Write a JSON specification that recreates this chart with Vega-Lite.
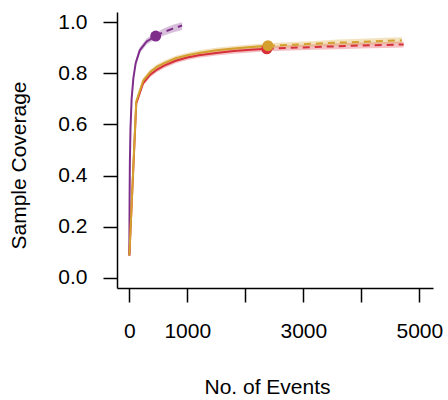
{
  "$schema": "https://vega.github.io/schema/vega-lite/v6.json",
  "width": 316,
  "height": 276,
  "autosize": {"type": "none"},
  "padding": {"left": 117, "top": 12, "right": 15, "bottom": 112},
  "background": "white",
  "config": {
    "view": {"stroke": null},
    "font": "Liberation Sans",
    "axis": {
      "grid": false,
      "domainColor": "black",
      "domainWidth": 1.5,
      "tickColor": "black",
      "tickWidth": 1.5,
      "tickSize": 14,
      "labelColor": "black",
      "labelFontSize": 21,
      "labelFont": "Liberation Sans",
      "titleColor": "black",
      "titleFontSize": 21,
      "titleFont": "Liberation Sans",
      "titleFontWeight": "normal",
      "labelFlush": false,
      "labelOverlap": false
    }
  },
  "data": {
    "values": [
      {"g": "A", "m": 1, "c": 0.087, "lo": 0.08, "hi": 0.094, "t": "int"},
      {"g": "A", "m": 5, "c": 0.3, "lo": 0.29, "hi": 0.31, "t": "int"},
      {"g": "A", "m": 10, "c": 0.45, "lo": 0.44, "hi": 0.46, "t": "int"},
      {"g": "A", "m": 20, "c": 0.58, "lo": 0.57, "hi": 0.59, "t": "int"},
      {"g": "A", "m": 40, "c": 0.7, "lo": 0.69, "hi": 0.71, "t": "int"},
      {"g": "A", "m": 70, "c": 0.78, "lo": 0.77, "hi": 0.79, "t": "int"},
      {"g": "A", "m": 110, "c": 0.84, "lo": 0.83, "hi": 0.85, "t": "int"},
      {"g": "A", "m": 180, "c": 0.89, "lo": 0.879, "hi": 0.901, "t": "int"},
      {"g": "A", "m": 300, "c": 0.925, "lo": 0.913, "hi": 0.937, "t": "int"},
      {"g": "A", "m": 455, "c": 0.946, "lo": 0.934, "hi": 0.958, "t": "int"},
      {"g": "A", "m": 455, "c": 0.946, "lo": 0.934, "hi": 0.958, "t": "ext"},
      {"g": "A", "m": 600, "c": 0.962, "lo": 0.948, "hi": 0.976, "t": "ext"},
      {"g": "A", "m": 750, "c": 0.975, "lo": 0.96, "hi": 0.99, "t": "ext"},
      {"g": "A", "m": 910, "c": 0.987, "lo": 0.97, "hi": 1.0, "t": "ext"},
      {"g": "A", "m": 455, "c": 0.946, "lo": 0.946, "hi": 0.946, "t": "obs"},

      {"g": "B", "m": 1, "c": 0.087, "lo": 0.082, "hi": 0.092, "t": "int"},
      {"g": "B", "m": 120, "c": 0.682, "lo": 0.672, "hi": 0.692, "t": "int"},
      {"g": "B", "m": 240, "c": 0.762, "lo": 0.752, "hi": 0.772, "t": "int"},
      {"g": "B", "m": 360, "c": 0.795, "lo": 0.785, "hi": 0.805, "t": "int"},
      {"g": "B", "m": 480, "c": 0.815, "lo": 0.805, "hi": 0.825, "t": "int"},
      {"g": "B", "m": 600, "c": 0.83, "lo": 0.82, "hi": 0.84, "t": "int"},
      {"g": "B", "m": 800, "c": 0.849, "lo": 0.839, "hi": 0.859, "t": "int"},
      {"g": "B", "m": 1000, "c": 0.862, "lo": 0.852, "hi": 0.872, "t": "int"},
      {"g": "B", "m": 1200, "c": 0.871, "lo": 0.861, "hi": 0.881, "t": "int"},
      {"g": "B", "m": 1500, "c": 0.88, "lo": 0.87, "hi": 0.89, "t": "int"},
      {"g": "B", "m": 1800, "c": 0.887, "lo": 0.877, "hi": 0.897, "t": "int"},
      {"g": "B", "m": 2100, "c": 0.892, "lo": 0.882, "hi": 0.902, "t": "int"},
      {"g": "B", "m": 2370, "c": 0.896, "lo": 0.886, "hi": 0.906, "t": "int"},
      {"g": "B", "m": 2370, "c": 0.896, "lo": 0.886, "hi": 0.906, "t": "ext"},
      {"g": "B", "m": 2800, "c": 0.9, "lo": 0.889, "hi": 0.911, "t": "ext"},
      {"g": "B", "m": 3200, "c": 0.903, "lo": 0.892, "hi": 0.914, "t": "ext"},
      {"g": "B", "m": 3600, "c": 0.906, "lo": 0.894, "hi": 0.918, "t": "ext"},
      {"g": "B", "m": 4000, "c": 0.909, "lo": 0.897, "hi": 0.921, "t": "ext"},
      {"g": "B", "m": 4400, "c": 0.911, "lo": 0.899, "hi": 0.923, "t": "ext"},
      {"g": "B", "m": 4730, "c": 0.913, "lo": 0.901, "hi": 0.925, "t": "ext"},
      {"g": "B", "m": 2370, "c": 0.896, "lo": 0.896, "hi": 0.896, "t": "obs"},

      {"g": "C", "m": 1, "c": 0.087, "lo": 0.082, "hi": 0.092, "t": "int"},
      {"g": "C", "m": 120, "c": 0.69, "lo": 0.68, "hi": 0.7, "t": "int"},
      {"g": "C", "m": 240, "c": 0.772, "lo": 0.762, "hi": 0.782, "t": "int"},
      {"g": "C", "m": 360, "c": 0.805, "lo": 0.795, "hi": 0.815, "t": "int"},
      {"g": "C", "m": 480, "c": 0.826, "lo": 0.816, "hi": 0.836, "t": "int"},
      {"g": "C", "m": 600, "c": 0.84, "lo": 0.83, "hi": 0.85, "t": "int"},
      {"g": "C", "m": 800, "c": 0.859, "lo": 0.849, "hi": 0.869, "t": "int"},
      {"g": "C", "m": 1000, "c": 0.871, "lo": 0.861, "hi": 0.881, "t": "int"},
      {"g": "C", "m": 1200, "c": 0.88, "lo": 0.87, "hi": 0.89, "t": "int"},
      {"g": "C", "m": 1500, "c": 0.89, "lo": 0.88, "hi": 0.9, "t": "int"},
      {"g": "C", "m": 1800, "c": 0.897, "lo": 0.887, "hi": 0.907, "t": "int"},
      {"g": "C", "m": 2100, "c": 0.903, "lo": 0.893, "hi": 0.913, "t": "int"},
      {"g": "C", "m": 2390, "c": 0.908, "lo": 0.898, "hi": 0.918, "t": "int"},
      {"g": "C", "m": 2390, "c": 0.908, "lo": 0.898, "hi": 0.918, "t": "ext"},
      {"g": "C", "m": 2800, "c": 0.912, "lo": 0.901, "hi": 0.923, "t": "ext"},
      {"g": "C", "m": 3200, "c": 0.916, "lo": 0.905, "hi": 0.927, "t": "ext"},
      {"g": "C", "m": 3600, "c": 0.92, "lo": 0.908, "hi": 0.932, "t": "ext"},
      {"g": "C", "m": 4000, "c": 0.923, "lo": 0.911, "hi": 0.935, "t": "ext"},
      {"g": "C", "m": 4400, "c": 0.927, "lo": 0.915, "hi": 0.939, "t": "ext"},
      {"g": "C", "m": 4700, "c": 0.929, "lo": 0.917, "hi": 0.941, "t": "ext"},
      {"g": "C", "m": 2390, "c": 0.908, "lo": 0.908, "hi": 0.908, "t": "obs"}
    ]
  },
  "encoding": {
    "x": {
      "field": "m",
      "type": "quantitative",
      "scale": {"domain": [-212, 5236], "nice": false, "zero": false},
      "axis": {
        "title": "No. of Events",
        "values": [0, 1000, 2000, 3000, 4000, 5000],
        "labelExpr": "datum.value == 2000 || datum.value == 4000 ? '' : format(datum.value, 'd')",
        "labelPadding": 18,
        "titleX": 150,
        "titleY": 105,
        "titleBaseline": "alphabetic",
        "titleAlign": "center",
        "titleAnchor": null
      }
    },
    "color": {
      "field": "g",
      "type": "nominal",
      "scale": {"domain": ["A", "B", "C"], "range": ["#7E2E8A", "#D7303B", "#D4A02E"]},
      "legend": null
    }
  },
  "layer": [
    {
      "transform": [{"filter": "datum.t != 'obs'"}],
      "mark": {"type": "area", "opacity": 0.3},
      "encoding": {
        "y": {
          "field": "lo",
          "type": "quantitative",
          "scale": {"domain": [-0.04, 1.04], "nice": false, "zero": false},
          "axis": {
            "title": "Sample Coverage",
            "values": [0, 0.2, 0.4, 0.6, 0.8, 1.0],
            "format": ".1f",
            "labelPadding": 16,
            "titleX": -92,
            "titleY": 153,
            "titleAngle": -90,
            "titleBaseline": "alphabetic",
            "titleAlign": "center",
            "titleAnchor": null
          }
        },
        "y2": {"field": "hi"}
      }
    },
    {
      "transform": [{"filter": "datum.t == 'int'"}],
      "mark": {"type": "line", "strokeWidth": 2},
      "encoding": {
        "y": {"field": "c", "type": "quantitative"}
      }
    },
    {
      "transform": [{"filter": "datum.t == 'ext'"}],
      "mark": {"type": "line", "strokeWidth": 2, "strokeDash": [7, 5]},
      "encoding": {
        "y": {"field": "c", "type": "quantitative"}
      }
    },
    {
      "transform": [{"filter": "datum.t == 'obs'"}],
      "mark": {"type": "point", "filled": true, "opacity": 1, "size": 120},
      "encoding": {
        "y": {"field": "c", "type": "quantitative"}
      }
    }
  ]
}
